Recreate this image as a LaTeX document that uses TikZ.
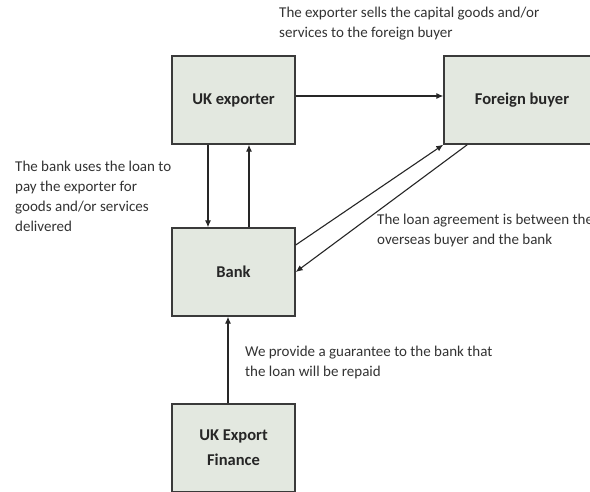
\documentclass[tikz,border=0pt]{standalone}
\usepackage{fontspec}
\setmainfont{Carlito}
\usetikzlibrary{arrows.meta}
\definecolor{boxfill}{HTML}{E3E8E0}
\definecolor{boxline}{HTML}{3A3A3A}
\definecolor{txt}{HTML}{333333}
\tikzset{
  blk/.style={draw=boxline, fill=boxfill, line width=1.4pt, rectangle,
    minimum width=123pt, minimum height=88pt, inner sep=0pt,
    font=\fontsize{16.5}{25}\selectfont\bfseries, text=black!85, align=center},
  lbl/.style={font=\fontsize{15}{20}\selectfont, text=txt, align=left,
    inner sep=0pt, anchor=north west},
  arr/.style={draw=black!85, line width=1.1pt, -{Latex[length=7pt,width=6pt]}}
}
\begin{document}
\begin{tikzpicture}[x=1pt,y=-1pt]
\useasboundingbox (0,0) rectangle (590,491);
\fill[white] (0,0) rectangle (590,491);
\node[blk] (ukexp) at (233.5,100) {UK exporter};
\node[blk, minimum width=156pt] (fb) at (522,100) {Foreign buyer};
\node[blk] (bank) at (233.5,272) {Bank};
\node[blk] (ukef) at (233.5,448) {UK Export\\Finance};

\draw[arr] ([yshift=4pt]ukexp.east) -- ([yshift=4pt]fb.west);
\draw[arr] ([xshift=-25.5pt]ukexp.south) -- ([xshift=-25.5pt]bank.north);
\draw[arr] ([xshift=15.5pt]bank.north) -- ([xshift=15.5pt]ukexp.south);
\draw[arr] ([yshift=27pt]bank.east) -- (fb.south west);
\draw[arr] ([xshift=24pt]fb.south west) -- (bank.east);
\draw[arr] ([xshift=-5.5pt]ukef.north) -- ([xshift=-5.5pt]bank.south);

\node[lbl] (t1) at (279,7) {The exporter sells the capital goods and/or\\services to the foreign buyer};
\node[lbl] (t2) at (15,161) {The bank uses the loan to\\pay the exporter for\\goods and/or services\\delivered};
\node[lbl] (t3) at (377,214) {The loan agreement is between the\\overseas buyer and the bank};
\node[lbl] (t4) at (245,346) {We provide a guarantee to the bank that\\the loan will be repaid};
\end{tikzpicture}
\end{document}
